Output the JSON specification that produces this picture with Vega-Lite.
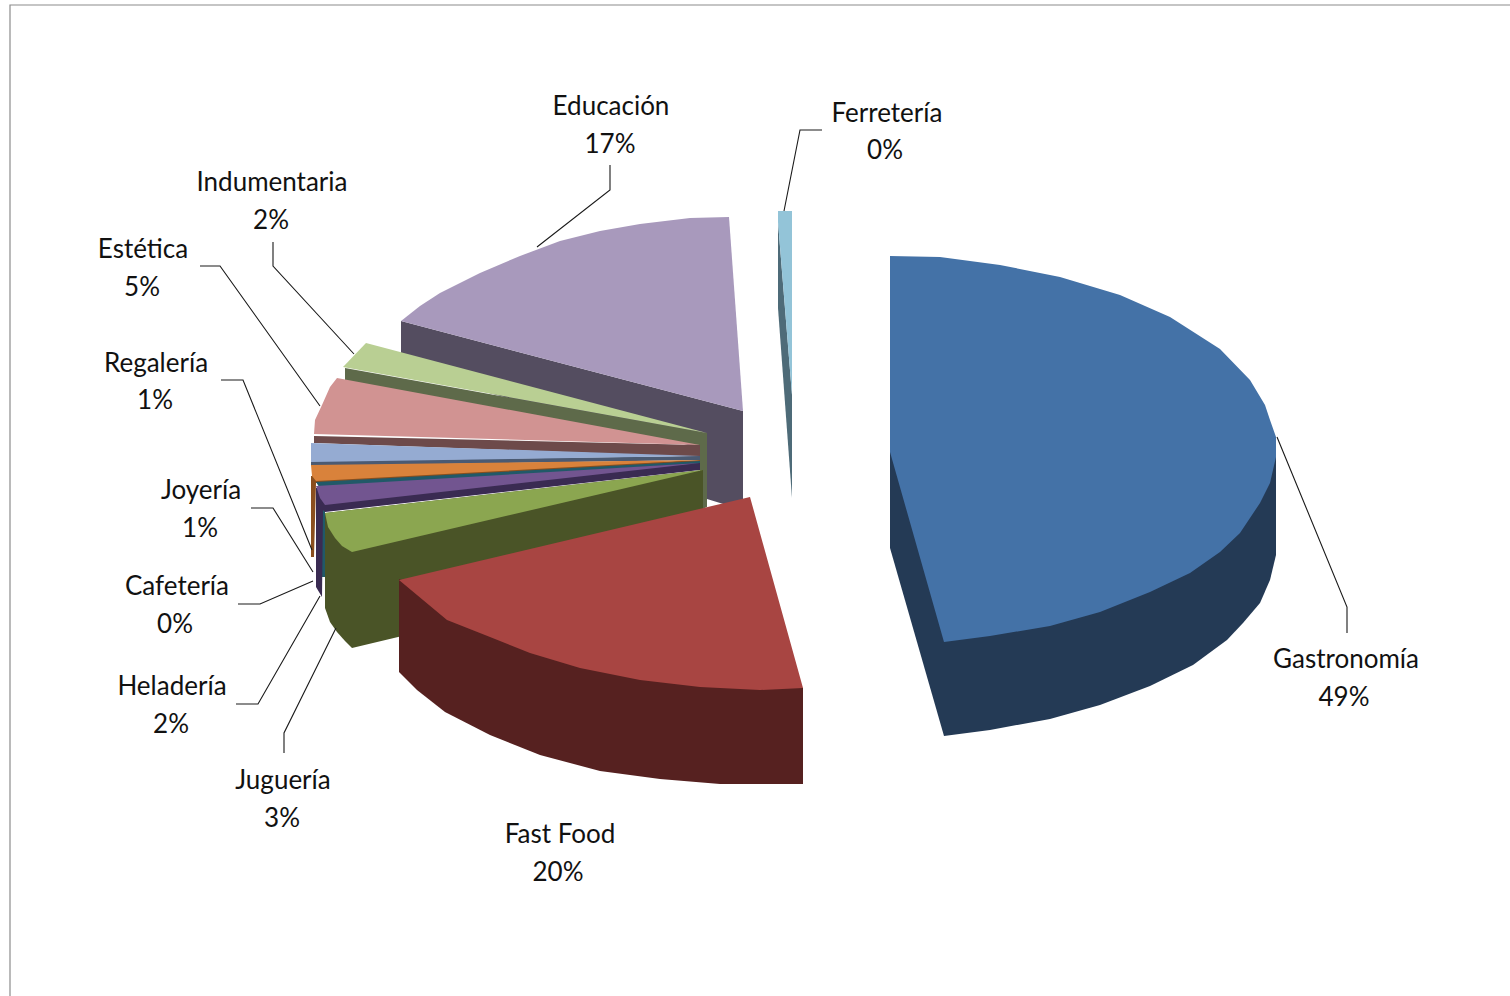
{"$schema":"https://vega.github.io/schema/vega-lite/v6.json","width":1510,"height":996,"padding":0,"autosize":{"type":"none"},"background":"white","view":{"stroke":null},
"datasets":{
"outlines":[
{"part":"Educación lado","i":0,"x":401,"y":321},{"part":"Educación lado","i":1,"x":401,"y":370},{"part":"Educación lado","i":2,"x":707,"y":450},{"part":"Educación lado","i":3,"x":707,"y":499},{"part":"Educación lado","i":4,"x":743,"y":510},{"part":"Educación lado","i":5,"x":743,"y":411},
{"part":"Educación","i":0,"x":401,"y":321},{"part":"Educación","i":1,"x":420,"y":306},{"part":"Educación","i":2,"x":440,"y":293},{"part":"Educación","i":3,"x":480,"y":273},{"part":"Educación","i":4,"x":520,"y":256},{"part":"Educación","i":5,"x":560,"y":241},{"part":"Educación","i":6,"x":600,"y":231},{"part":"Educación","i":7,"x":640,"y":224},{"part":"Educación","i":8,"x":690,"y":218},{"part":"Educación","i":9,"x":729,"y":217},{"part":"Educación","i":10,"x":743,"y":411},
{"part":"Ferretería lado","i":0,"x":778,"y":222},{"part":"Ferretería lado","i":1,"x":778,"y":308},{"part":"Ferretería lado","i":2,"x":792,"y":498},{"part":"Ferretería lado","i":3,"x":792,"y":395},
{"part":"Ferretería","i":0,"x":778,"y":211},{"part":"Ferretería","i":1,"x":792,"y":211},{"part":"Ferretería","i":2,"x":792,"y":395},{"part":"Ferretería","i":3,"x":778,"y":222},
{"part":"Indumentaria lado","i":0,"x":345,"y":368},{"part":"Indumentaria lado","i":1,"x":345,"y":381},{"part":"Indumentaria lado","i":2,"x":700,"y":446},{"part":"Indumentaria lado","i":3,"x":700,"y":510},{"part":"Indumentaria lado","i":4,"x":707,"y":507},{"part":"Indumentaria lado","i":5,"x":707,"y":433},
{"part":"Indumentaria","i":0,"x":343,"y":367},{"part":"Indumentaria","i":1,"x":366,"y":343},{"part":"Indumentaria","i":2,"x":707,"y":433},
{"part":"Estética lado","i":0,"x":314,"y":436},{"part":"Estética lado","i":1,"x":314,"y":443},{"part":"Estética lado","i":2,"x":700,"y":457},{"part":"Estética lado","i":3,"x":700,"y":445},
{"part":"Estética","i":0,"x":337,"y":378},{"part":"Estética","i":1,"x":700,"y":445},{"part":"Estética","i":2,"x":314,"y":434},{"part":"Estética","i":3,"x":315,"y":420},{"part":"Estética","i":4,"x":322,"y":405},{"part":"Estética","i":5,"x":330,"y":387},
{"part":"Regalería lado","i":0,"x":311,"y":461},{"part":"Regalería lado","i":1,"x":311,"y":466},{"part":"Regalería lado","i":2,"x":700,"y":460},{"part":"Regalería lado","i":3,"x":700,"y":456},
{"part":"Regalería","i":0,"x":311,"y":443},{"part":"Regalería","i":1,"x":700,"y":456},{"part":"Regalería","i":2,"x":311,"y":462},
{"part":"Joyería lado","i":0,"x":311,"y":476},{"part":"Joyería lado","i":1,"x":311,"y":557},{"part":"Joyería lado","i":2,"x":314,"y":557},{"part":"Joyería lado","i":3,"x":316,"y":483},{"part":"Joyería lado","i":4,"x":700,"y":463},{"part":"Joyería lado","i":5,"x":700,"y":460},
{"part":"Joyería","i":0,"x":311,"y":465},{"part":"Joyería","i":1,"x":700,"y":460},{"part":"Joyería","i":2,"x":316,"y":481},{"part":"Joyería","i":3,"x":312,"y":476},
{"part":"Cafetería","i":0,"x":316,"y":482},{"part":"Cafetería","i":1,"x":700,"y":461},{"part":"Cafetería","i":2,"x":700,"y":465},{"part":"Cafetería","i":3,"x":325,"y":500},{"part":"Cafetería","i":4,"x":325,"y":577},{"part":"Cafetería","i":5,"x":321,"y":577},{"part":"Cafetería","i":6,"x":321,"y":490},
{"part":"Heladería lado","i":0,"x":316,"y":488},{"part":"Heladería lado","i":1,"x":316,"y":587},{"part":"Heladería lado","i":2,"x":322,"y":597},{"part":"Heladería lado","i":3,"x":323,"y":510},{"part":"Heladería lado","i":4,"x":325,"y":512},{"part":"Heladería lado","i":5,"x":700,"y":470},{"part":"Heladería lado","i":6,"x":700,"y":463},
{"part":"Heladería","i":0,"x":316,"y":486},{"part":"Heladería","i":1,"x":700,"y":463},{"part":"Heladería","i":2,"x":325,"y":505},{"part":"Heladería","i":3,"x":320,"y":498},
{"part":"Juguería lado","i":0,"x":325,"y":513},{"part":"Juguería lado","i":1,"x":325,"y":608},{"part":"Juguería lado","i":2,"x":330,"y":622},{"part":"Juguería lado","i":3,"x":337,"y":632},{"part":"Juguería lado","i":4,"x":345,"y":641},{"part":"Juguería lado","i":5,"x":352,"y":648},{"part":"Juguería lado","i":6,"x":703,"y":564},{"part":"Juguería lado","i":7,"x":703,"y":470},
{"part":"Juguería","i":0,"x":325,"y":513},{"part":"Juguería","i":1,"x":703,"y":470},{"part":"Juguería","i":2,"x":352,"y":552},{"part":"Juguería","i":3,"x":342,"y":546},{"part":"Juguería","i":4,"x":335,"y":538},{"part":"Juguería","i":5,"x":328,"y":527},
{"part":"Fast Food lado","i":0,"x":399,"y":579},{"part":"Fast Food lado","i":1,"x":399,"y":672},{"part":"Fast Food lado","i":2,"x":417,"y":690},{"part":"Fast Food lado","i":3,"x":445,"y":712},{"part":"Fast Food lado","i":4,"x":490,"y":735},{"part":"Fast Food lado","i":5,"x":540,"y":755},{"part":"Fast Food lado","i":6,"x":600,"y":771},{"part":"Fast Food lado","i":7,"x":660,"y":779},{"part":"Fast Food lado","i":8,"x":720,"y":784},{"part":"Fast Food lado","i":9,"x":803,"y":784},{"part":"Fast Food lado","i":10,"x":803,"y":688},
{"part":"Fast Food","i":0,"x":399,"y":580},{"part":"Fast Food","i":1,"x":750,"y":497},{"part":"Fast Food","i":2,"x":803,"y":688},{"part":"Fast Food","i":3,"x":760,"y":690},{"part":"Fast Food","i":4,"x":700,"y":687},{"part":"Fast Food","i":5,"x":640,"y":680},{"part":"Fast Food","i":6,"x":580,"y":668},{"part":"Fast Food","i":7,"x":530,"y":653},{"part":"Fast Food","i":8,"x":490,"y":637},{"part":"Fast Food","i":9,"x":447,"y":620},{"part":"Fast Food","i":10,"x":417,"y":595},
{"part":"Gastronomía lado","i":0,"x":890,"y":452},{"part":"Gastronomía lado","i":1,"x":890,"y":548},{"part":"Gastronomía lado","i":2,"x":944,"y":736},{"part":"Gastronomía lado","i":3,"x":990,"y":730},{"part":"Gastronomía lado","i":4,"x":1050,"y":719},{"part":"Gastronomía lado","i":5,"x":1100,"y":705},{"part":"Gastronomía lado","i":6,"x":1150,"y":686},{"part":"Gastronomía lado","i":7,"x":1193,"y":665},{"part":"Gastronomía lado","i":8,"x":1227,"y":640},{"part":"Gastronomía lado","i":9,"x":1243,"y":623},{"part":"Gastronomía lado","i":10,"x":1260,"y":603},{"part":"Gastronomía lado","i":11,"x":1270,"y":580},{"part":"Gastronomía lado","i":12,"x":1276,"y":555},{"part":"Gastronomía lado","i":13,"x":1276,"y":445},
{"part":"Gastronomía","i":0,"x":890,"y":256},{"part":"Gastronomía","i":1,"x":940,"y":257},{"part":"Gastronomía","i":2,"x":1000,"y":265},{"part":"Gastronomía","i":3,"x":1060,"y":277},{"part":"Gastronomía","i":4,"x":1120,"y":295},{"part":"Gastronomía","i":5,"x":1170,"y":317},{"part":"Gastronomía","i":6,"x":1220,"y":349},{"part":"Gastronomía","i":7,"x":1250,"y":380},{"part":"Gastronomía","i":8,"x":1265,"y":405},{"part":"Gastronomía","i":9,"x":1270,"y":420},{"part":"Gastronomía","i":10,"x":1276,"y":437},{"part":"Gastronomía","i":11,"x":1276,"y":457},{"part":"Gastronomía","i":12,"x":1270,"y":483},{"part":"Gastronomía","i":13,"x":1260,"y":503},{"part":"Gastronomía","i":14,"x":1240,"y":533},{"part":"Gastronomía","i":15,"x":1220,"y":552},{"part":"Gastronomía","i":16,"x":1190,"y":573},{"part":"Gastronomía","i":17,"x":1150,"y":592},{"part":"Gastronomía","i":18,"x":1100,"y":612},{"part":"Gastronomía","i":19,"x":1050,"y":626},{"part":"Gastronomía","i":20,"x":990,"y":636},{"part":"Gastronomía","i":21,"x":944,"y":642},{"part":"Gastronomía","i":22,"x":890,"y":452}
],
"leaders":[
{"to":"Gastronomía","i":0,"x":1277,"y":437},{"to":"Gastronomía","i":1,"x":1347,"y":607},{"to":"Gastronomía","i":2,"x":1347,"y":633},
{"to":"Educación","i":0,"x":537,"y":247},{"to":"Educación","i":1,"x":610,"y":190},{"to":"Educación","i":2,"x":610,"y":165},
{"to":"Ferretería","i":0,"x":784,"y":211},{"to":"Ferretería","i":1,"x":800,"y":130},{"to":"Ferretería","i":2,"x":822,"y":130},
{"to":"Indumentaria","i":0,"x":354,"y":354},{"to":"Indumentaria","i":1,"x":273,"y":266},{"to":"Indumentaria","i":2,"x":273,"y":242},
{"to":"Estética","i":0,"x":200,"y":266},{"to":"Estética","i":1,"x":220,"y":266},{"to":"Estética","i":2,"x":320,"y":406},
{"to":"Regalería","i":0,"x":221,"y":380},{"to":"Regalería","i":1,"x":243,"y":380},{"to":"Regalería","i":2,"x":312,"y":550},
{"to":"Joyería","i":0,"x":251,"y":508},{"to":"Joyería","i":1,"x":273,"y":508},{"to":"Joyería","i":2,"x":313,"y":572},
{"to":"Cafetería","i":0,"x":238,"y":604},{"to":"Cafetería","i":1,"x":260,"y":604},{"to":"Cafetería","i":2,"x":313,"y":581},
{"to":"Heladería","i":0,"x":236,"y":704},{"to":"Heladería","i":1,"x":258,"y":704},{"to":"Heladería","i":2,"x":320,"y":596},
{"to":"Juguería","i":0,"x":284,"y":753},{"to":"Juguería","i":1,"x":284,"y":733},{"to":"Juguería","i":2,"x":336,"y":628}
],
"frame":[{"i":0,"x":1510,"y":5},{"i":1,"x":10,"y":5},{"i":2,"x":10,"y":996}],
"labels":[
{"t":"Gastronomía","x":1346,"y":658},{"t":"49%","x":1344,"y":696},
{"t":"Fast Food","x":560,"y":833},{"t":"20%","x":558,"y":871},
{"t":"Juguería","x":283,"y":779},{"t":"3%","x":282,"y":817},
{"t":"Heladería","x":172,"y":685},{"t":"2%","x":171,"y":723},
{"t":"Cafetería","x":177,"y":585},{"t":"0%","x":175,"y":623},
{"t":"Joyería","x":201,"y":489},{"t":"1%","x":200,"y":527},
{"t":"Regalería","x":156,"y":362},{"t":"1%","x":155,"y":399},
{"t":"Estética","x":143,"y":248},{"t":"5%","x":142,"y":286},
{"t":"Indumentaria","x":272,"y":181},{"t":"2%","x":271,"y":219},
{"t":"Educación","x":611,"y":105},{"t":"17%","x":610,"y":143},
{"t":"Ferretería","x":887,"y":112},{"t":"0%","x":885,"y":149}
]},
"encoding":{
"x":{"field":"x","type":"quantitative","axis":null,"scale":{"domain":[0,1510],"nice":false,"zero":false}},
"y":{"field":"y","type":"quantitative","axis":null,"scale":{"domain":[996,0],"nice":false,"zero":false}}},
"layer":[
{"data":{"name":"frame"},"mark":{"type":"line","color":"#8c8c8c","strokeWidth":1.2},"encoding":{"order":{"field":"i"}}},
{"data":{"name":"outlines"},"mark":{"type":"line","strokeWidth":0,"interpolate":"linear"},
"encoding":{"order":{"field":"i"},"detail":{"field":"part"},
"fill":{"field":"part","type":"nominal","legend":null,"scale":{
"domain":["Educación lado","Educación","Ferretería lado","Ferretería","Indumentaria lado","Indumentaria","Estética lado","Estética","Regalería lado","Regalería","Joyería lado","Joyería","Cafetería","Heladería lado","Heladería","Juguería lado","Juguería","Fast Food lado","Fast Food","Gastronomía lado","Gastronomía"],
"range":["#544d60","#a899bc","#4e6b78","#93c4d8","#5e6a4a","#b9cf93","#6d4a4a","#d19392","#4b5a72","#95abd2","#8a4f1e","#d9823b","#215968","#3a2b52","#725590","#4a5427","#8ba650","#562120","#a84542","#243a55","#4472a7"]}}}},
{"data":{"name":"leaders"},"mark":{"type":"line","color":"#1a1a1a","strokeWidth":1.1},"encoding":{"order":{"field":"i"},"detail":{"field":"to"}}},
{"data":{"name":"labels"},"mark":{"type":"text","font":"Lato","fontSize":26,"color":"#111111","align":"center","baseline":"middle","dy":2},"encoding":{"text":{"field":"t"}}}
]}
